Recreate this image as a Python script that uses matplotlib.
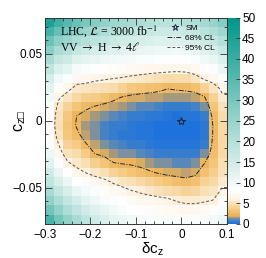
import numpy as np
import matplotlib
matplotlib.use('Agg')
from matplotlib import pyplot as plt
from matplotlib.colors import LinearSegmentedColormap
from matplotlib.lines import Line2D
from matplotlib.ticker import MultipleLocator

plt.rcParams['font.family'] = 'Liberation Sans'

# axis ranges of the scan
dcz_range = [-0.3, 0.1]
czb_range = [-0.077, 0.077]

# delta chi2 per bin, one list per dcz column (left -> right),
# values inside each list go from top (czb = +0.077) to bottom
chi2_cols = [
    [45, 38, 32, 27, 22, 18, 14.5, 12, 10, 8.6, 7.8, 7.5, 7.8, 8.7, 10.2, 12.3, 15, 18, 22, 26, 31, 37],
    [38.8, 32.6, 27, 21.8, 17.3, 13.3, 10, 7.6, 6.3, 5.35, 4.9, 4.85, 5.2, 5.95, 6.8, 8.6, 11, 14, 17.4, 21.4, 25.7, 30.5],
    [35.2, 29.8, 24.7, 20, 15.7, 11.9, 8.7, 6.6, 5.1, 4.0, 3.4, 3.2, 3.4, 4.0, 5.0, 6.2, 8.0, 10.7, 13.9, 17.5, 21.4, 25.8],
    [32.2, 26.7, 21.6, 17, 12.9, 9.3, 6.9, 5.46, 4.4, 3.3, 2.28, 2.15, 2.63, 3.55, 4.5, 5.4, 6.6, 8.3, 11, 14.3, 17.9, 21.9],
    [29.4, 24.4, 19.8, 15.6, 11.9, 8.8, 6.8, 5.2, 3.9, 2.6, 1.77, 1.5, 1.7, 2.38, 3.56, 4.74, 5.9, 7.6, 9.6, 11.9, 14.9, 18.2],
    [27.6, 22.9, 18.6, 14.6, 11.2, 8.3, 6.4, 4.96, 3.56, 2.21, 1.53, 1.22, 1.26, 1.61, 2.26, 3.78, 5.33, 6.9, 8.6, 10.3, 12.7, 15.5],
    [25.7, 21.4, 17.4, 13.7, 10.5, 7.9, 6.2, 4.7, 3.17, 1.92, 1.26, 0.94, 0.94, 1.26, 1.91, 3.18, 4.76, 6.5, 7.7, 9.1, 11.3, 13.7],
    [23.9, 19.8, 16.1, 12.8, 9.9, 7.8, 6.0, 4.58, 2.7, 1.66, 1.06, 0.75, 0.72, 0.98, 1.53, 2.35, 4.08, 5.74, 7.1, 8.4, 9.9, 11.9],
    [23, 19.1, 15.5, 12.2, 9.6, 7.5, 5.79, 3.98, 2.23, 1.41, 0.87, 0.59, 0.58, 0.84, 1.36, 2.16, 3.62, 5.16, 6.7, 7.9, 9.1, 11],
    [22, 18.3, 14.8, 11.7, 9.2, 7.2, 5.5, 3.47, 1.92, 1.18, 0.7, 0.47, 0.49, 0.75, 1.26, 2.02, 3.27, 4.69, 6.1, 7.3, 8.3, 9.9],
    [21.1, 17.5, 14.2, 11.2, 8.9, 7.0, 5.3, 3.18, 1.78, 1.08, 0.61, 0.38, 0.38, 0.61, 1.08, 1.78, 2.89, 4.31, 5.74, 6.9, 7.9, 9.6],
    [20.2, 16.8, 13.6, 10.8, 8.6, 6.8, 5.09, 2.97, 1.70, 1.0, 0.54, 0.29, 0.27, 0.47, 0.89, 1.54, 2.47, 3.91, 5.36, 6.8, 7.6, 9.1],
    [19.3, 16.0, 13.0, 10.4, 8.3, 6.7, 4.88, 2.75, 1.61, 0.92, 0.44, 0.19, 0.16, 0.34, 0.73, 1.33, 2.13, 3.53, 5.03, 6.6, 7.4, 9.1],
    [19.2, 15.9, 12.9, 10.2, 8.2, 6.6, 4.65, 2.4, 1.47, 0.77, 0.31, 0.09, 0.115, 0.31, 0.68, 1.21, 1.92, 3.13, 4.65, 6.4, 7.2, 9.0],
    [19.2, 15.8, 12.8, 10.1, 8.0, 6.5, 4.56, 2.58, 1.41, 0.65, 0.19, 0.02, 0.08, 0.3, 0.66, 1.17, 1.83, 2.87, 4.35, 5.83, 7.2, 8.9],
    [20.1, 16.5, 13.3, 10.4, 8.2, 6.6, 4.67, 2.72, 1.46, 0.68, 0.2, 0.02, 0.08, 0.28, 0.63, 1.12, 1.75, 2.66, 4.08, 5.49, 7.0, 8.8],
    [21.1, 17.5, 14.2, 11.2, 8.9, 7.0, 5.2, 2.94, 1.57, 0.8, 0.31, 0.1, 0.15, 0.36, 0.73, 1.26, 1.95, 3.0, 4.24, 5.47, 7.0, 8.7],
    [23, 19.2, 15.7, 12.5, 10, 7.9, 6.2, 4.08, 2.15, 1.26, 0.69, 0.42, 0.46, 0.77, 1.36, 2.22, 3.12, 3.99, 4.87, 5.75, 7.2, 9.0],
    [24.9, 20.9, 17.2, 13.9, 11, 8.7, 6.8, 5.19, 4.03, 3.17, 2.63, 2.4, 2.44, 2.59, 2.87, 3.27, 3.79, 4.43, 5.19, 6.05, 7.8, 9.7],
    [27.9, 23.9, 20.1, 16.6, 13.4, 10.8, 8.5, 6.5, 5.62, 5.07, 4.66, 4.38, 4.3, 4.33, 4.46, 4.71, 5.04, 5.5, 6.3, 7.6, 9.1, 10.9],
]

cl_levels = [2.3, 5.99]
cl_names = ['68% CL', '95% CL']
sm_point = [0.0, 0.0]
cbar_ticks = list(range(0, 51, 5))

# palette: blue at minimum, orange, white, teal
pal_vals = [0, 0.5, 1.0, 1.4, 1.9, 3.0, 4.5, 6.0, 8.0, 12, 25, 38, 50]
pal_cols = ['#1f72dc', '#2e7bd3', '#5a88b8', '#a99a7a', '#eab25a', '#f4c272', '#f8dcac',
            '#fdf3e4', '#ffffff', '#e2f3f0', '#97d4cc', '#45b2a7', '#00968a']
cmap = LinearSegmentedColormap.from_list('cl', [(v / 50, c) for v, c in zip(pal_vals, pal_cols)])

z = np.array(chi2_cols).T[::-1]   # rows bottom -> top
ny, nx = z.shape
xe = np.linspace(dcz_range[0], dcz_range[1], nx + 1)
ye = np.linspace(czb_range[0], czb_range[1], ny + 1)
xc = 0.5 * (xe[1:] + xe[:-1])
yc = 0.5 * (ye[1:] + ye[:-1])

fig = plt.figure(figsize=(2.66, 2.58), dpi=100)
ax = fig.add_axes([0.169, 0.132, 0.684, 0.800])
cax = fig.add_axes([0.857, 0.132, 0.045, 0.800])

mesh = ax.pcolormesh(xe, ye, z, cmap=cmap, vmin=0, vmax=50, shading='flat', antialiased=False)

# contours, grid padded so lines reach the frame
zp = np.pad(z, 1, mode='edge')
xp = np.concatenate([[xe[0]], xc, [xe[-1]]])
yp = np.concatenate([[ye[0]], yc, [ye[-1]]])
ax.contour(xp, yp, zp, levels=[cl_levels[0]], colors='#2a2a2a', linewidths=0.7, linestyles=[(0, (5, 1.5, 1, 1.5))])
ax.contour(xp, yp, zp, levels=[cl_levels[1]], colors='#555555', linewidths=0.7, linestyles=[(0, (3, 2))])

ax.plot(sm_point[0], sm_point[1], marker='*', ms=6, mfc='none', mec='#1a2a44', mew=0.8, ls='none')

ax.set_xlim(dcz_range)
ax.set_ylim(czb_range)
ax.xaxis.set_minor_locator(MultipleLocator(0.02))
ax.yaxis.set_minor_locator(MultipleLocator(0.01))
ax.set_yticks([-0.05, 0, 0.05])
ax.set_yticklabels(['\u22120.05', '0', '0.05'])
ax.set_xticks([-0.3, -0.2, -0.1, 0, 0.1])
ax.set_xticklabels(['\u22120.3', '\u22120.2', '\u22120.1', '0', '0.1'])
ax.tick_params(which='both', direction='in', top=True, right=True, labelsize=8.5, width=0.6, color='#333333')
ax.tick_params(which='major', length=5)
ax.tick_params(which='minor', length=2.5)
ax.tick_params(axis='x', pad=4)
ax.tick_params(axis='y', pad=2)
for s in ax.spines.values():
    s.set_linewidth(0.7)
    s.set_color('#333333')

ax.set_xlabel('\u03b4c$_\\mathregular{z}$', fontsize=11)
ax.xaxis.set_label_coords(0.59, -0.078)
ax.set_ylabel('c$_\\mathregular{z\u25a1}$', fontsize=11.5)
ax.yaxis.set_label_coords(-0.095, 0.5)

ax.text(0.08, 0.935, 'LHC, $\\mathcal{L}$ = 3000 fb$^{-1}$', transform=ax.transAxes,
        fontsize=8.5, family='Liberation Serif', math_fontfamily='stix', va='center')
ax.text(0.08, 0.855, 'VV $\\rightarrow$ H $\\rightarrow$ 4$\\ell$', transform=ax.transAxes,
        fontsize=8.5, family='Liberation Serif', math_fontfamily='stix', va='center')

handles = [Line2D([], [], marker='*', ms=5, mfc='none', mec='#1a2a44', mew=0.7, ls='none'),
           Line2D([], [], color='#2a2a2a', lw=0.7, ls=(0, (5, 1.5, 1, 1.5))),
           Line2D([], [], color='#555555', lw=0.7, ls=(0, (3, 2)))]
ax.legend(handles, ['SM'] + cl_names, loc='upper right', bbox_to_anchor=(0.945, 0.975),
          frameon=False, fontsize=6, handlelength=1.8, handletextpad=0.4,
          labelspacing=0.25, borderpad=0.2, borderaxespad=0)

cb = fig.colorbar(mesh, cax=cax, ticks=cbar_ticks)
cb.outline.set_visible(False)
cax.tick_params(direction='in', length=3, width=0.6, labelsize=8.5, pad=1.5, color='#333333')

fig.savefig('out.png', dpi=100)
